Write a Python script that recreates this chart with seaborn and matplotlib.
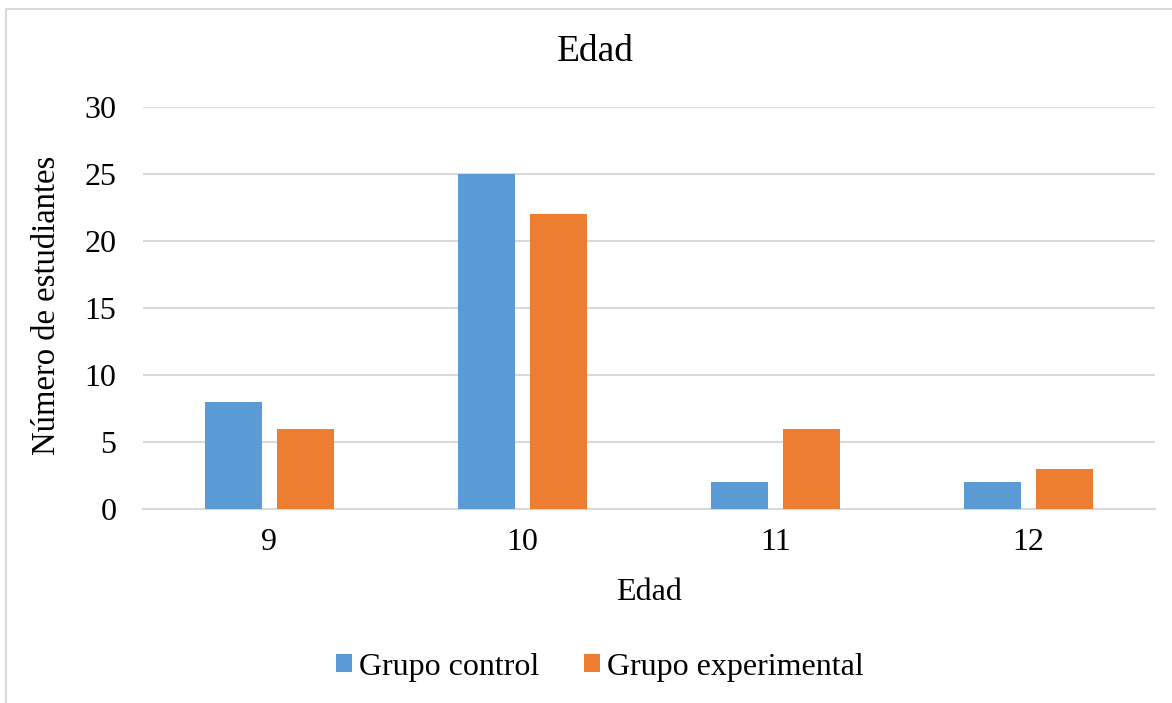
import matplotlib
matplotlib.use("Agg")
import matplotlib.pyplot as plt
from matplotlib.lines import Line2D
from matplotlib.patches import Patch
import seaborn as sns
import pandas as pd

# Data
edades = ["9", "10", "11", "12"]
grupo_control = [8, 25, 2, 2]
grupo_experimental = [6, 22, 6, 3]
series = ["Grupo control", "Grupo experimental"]
colores = ["#5B9BD5", "#ED7D31"]
y_ticks = [0, 5, 10, 15, 20, 25, 30]

df = pd.DataFrame({
    "Edad": edades * 2,
    "Valor": grupo_control + grupo_experimental,
    "Grupo": [series[0]] * len(edades) + [series[1]] * len(edades),
})

sns.set_theme(style="white")
plt.rcParams["font.family"] = ["Liberation Serif", "DejaVu Serif"]
plt.rcParams["text.color"] = "black"

W, H = 1172, 703
fig = plt.figure(figsize=(W / 100, H / 100), dpi=100)
ax = fig.add_axes([143 / W, 1 - 509 / H, 1012 / W, 402 / H])

sns.barplot(data=df, x="Edad", y="Valor", hue="Grupo", order=edades,
            hue_order=series, palette=colores, width=0.57, dodge=True,
            saturation=1, linewidth=0, legend=False, ax=ax, zorder=3)

# narrow each bar while keeping its centre, leaving a small gap between pairs
bar_w = 57 / 253
for p in ax.patches:
    c = p.get_x() + p.get_width() / 2
    p.set_width(bar_w)
    p.set_x(c - bar_w / 2)

ax.set_ylim(0, 30)
ax.set_xlim(-0.5, len(edades) - 0.5)
ax.set_yticks(y_ticks)
ax.set_yticklabels([str(t) for t in y_ticks])
ax.yaxis.grid(True, color="#D9D9D9", linewidth=1.5, zorder=0)
ax.set_axisbelow(True)
for s in ["top", "right", "left"]:
    ax.spines[s].set_visible(False)
ax.spines["bottom"].set_color("#D9D9D9")
ax.spines["bottom"].set_linewidth(1.5)
ax.tick_params(axis="y", length=0, pad=19, labelsize=23, labelcolor="black")
ax.tick_params(axis="x", length=0, pad=14, labelsize=23, labelcolor="black")

ax.set_xlabel("Edad", fontsize=23, color="black", va="center")
ax.xaxis.set_label_coords(0.5, (509 - 592) / 402)
ax.set_ylabel("Número de estudiantes", fontsize=23.5, color="black", va="center")
ax.yaxis.set_label_coords((47 - 143) / 1012, (509 - 305) / 402)

fig.text(595 / W, 1 - 52 / H, "Edad", fontsize=27, ha="center", va="center",
         color="black")

handles = [Patch(facecolor=c, edgecolor="none") for c in colores]
fig.legend(handles, series, loc="center", bbox_to_anchor=(600 / W, 1 - 667 / H),
           ncol=2, frameon=False, fontsize=23, handlelength=0.5,
           handleheight=0.5, handletextpad=0.22, columnspacing=1.38,
           labelcolor="black")

# chart area frame
fig.add_artist(Line2D([6 / W, 1.01], [1 - 8.5 / H, 1 - 8.5 / H],
                      transform=fig.transFigure, color="#D9D9D9", linewidth=1.5))
fig.add_artist(Line2D([6 / W, 6 / W], [-0.01, 1 - 8.5 / H],
                      transform=fig.transFigure, color="#D9D9D9", linewidth=1.5))

fig.savefig("out.png", dpi=100, facecolor="white")
